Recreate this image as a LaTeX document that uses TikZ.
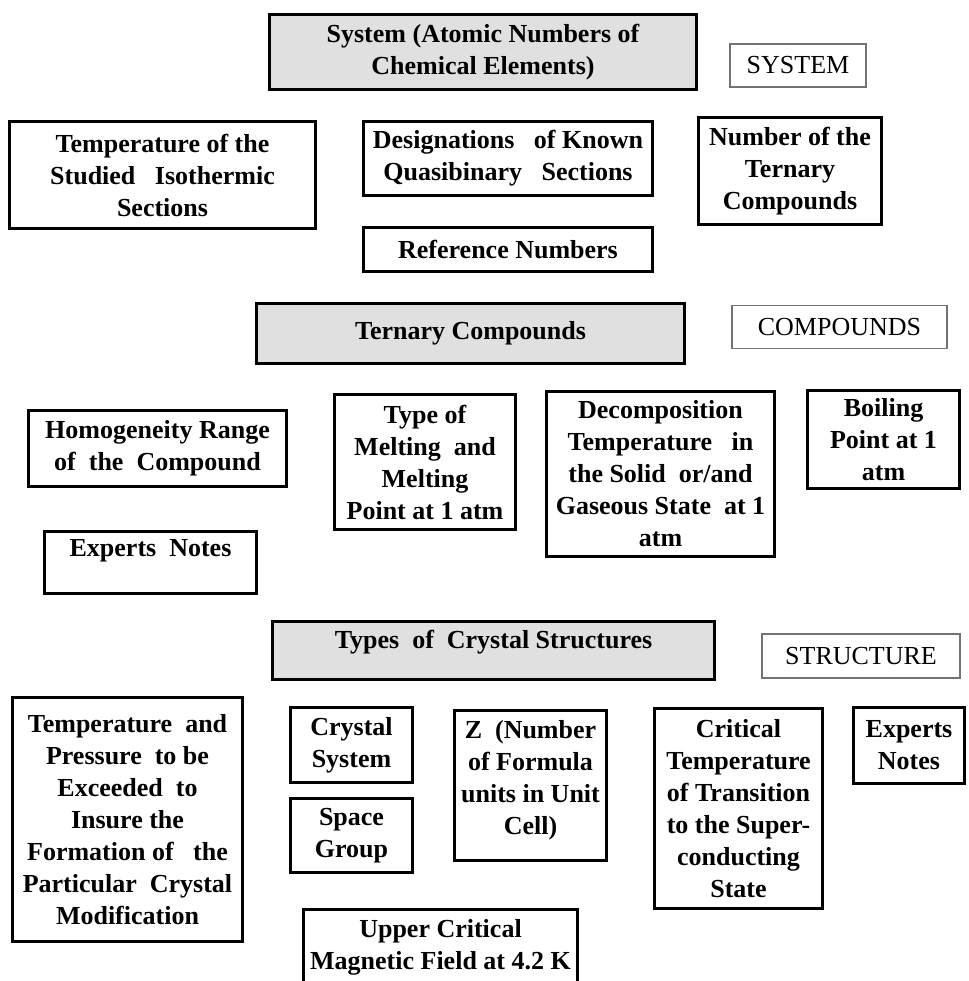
\documentclass[tikz,border=0pt]{standalone}
\usepackage{fontspec}
\setmainfont{Liberation Serif}
\begin{document}
\begin{tikzpicture}[x=1pt,y=-1pt,
  box/.style={draw=black, line width=3.5pt, inner sep=0pt, align=center,
    font=\bfseries\fontsize{26}{32}\selectfont},
  head/.style={box, fill=black!12},
  tag/.style={draw=black!55, line width=1.2pt, inner sep=0pt,
    font=\fontsize{26}{32}\selectfont},
  txt/.style={inner sep=0pt, align=center,
    font=\bfseries\fontsize{26}{32}\selectfont}]
\useasboundingbox (0,0) rectangle (968,981);
\clip (0,0) rectangle (968,981);

% --- system block ---
\node[head, minimum width=427pt, minimum height=75pt] (sys) at (483,52)
  {System (Atomic Numbers of\\Chemical Elements)};
\node[tag, minimum width=136pt, minimum height=43pt] (lsys) at (798,65.5) {SYSTEM};
\node[box, minimum width=306pt, minimum height=107pt] (temp) at (162.5,175)
  {Temperature of the\\Studied\ \ \ Isothermic\\Sections};
\node[box, minimum width=289pt, minimum height=74pt] (desig) at (508,158.5)
  {Designations\ \ \ of Known\\Quasibinary\ \ \ Sections};
\node[box, minimum width=289pt, minimum height=44pt] (ref) at (508,249.5)
  {Reference Numbers};
\node[box, minimum width=183pt, minimum height=107pt] (num) at (790,171)
  {Number of the\\Ternary\\Compounds};

% --- compounds block ---
\node[head, minimum width=428pt, minimum height=60pt] (tern) at (470.5,333.5)
  {Ternary Compounds};
\node[tag, minimum width=215pt, minimum height=43pt] (lcomp) at (839.5,327) {COMPOUNDS};
\node[box, minimum width=258pt, minimum height=76pt] (homog) at (157.5,448.5)
  {Homogeneity Range\\of\ \ the\ \ Compound};
\node[box, minimum width=181pt, minimum height=135pt] (melt) at (425,462)
  {Type of\\Melting\ \ and\\Melting\\Point at 1 atm};
\node[box, minimum width=228pt, minimum height=165pt] (decomp) at (660.5,474)
  {Decomposition\\Temperature\ \ \ in\\the Solid\ \ or/and\\Gaseous State\ \ at 1\\atm};
\node[box, minimum width=152pt, minimum height=98pt] (boil) at (883.5,439.5)
  {Boiling\\Point at 1\\atm};
\node[box, minimum width=212pt, minimum height=62pt] (exp1) at (150.5,562.5) {};
\node[txt] (exp1t) at (150.5,551) {Experts\ \ Notes};

% --- structure block ---
\node[head, minimum width=442pt, minimum height=58pt] (types) at (493.5,650.5) {};
\node[txt] (typest) at (493.5,642) {Types\ \ of\ \ Crystal Structures};
\node[tag, minimum width=198pt, minimum height=44pt] (lstruct) at (861,656) {STRUCTURE};
\node[box, minimum width=230pt, minimum height=244pt] (tp) at (127.5,819.5)
  {Temperature\ \ and\\Pressure\ \ to be\\Exceeded\ \ to\\Insure the\\Formation of\ \ \ the\\Particular\ \ Crystal\\Modification};
\node[box, minimum width=122pt, minimum height=75pt] (cs) at (351.5,745)
  {Crystal\\System};
\node[box, minimum width=122pt, minimum height=74pt] (sg) at (351.5,835.5)
  {Space\\Group};
\node[box, minimum width=152pt, minimum height=150pt] (z) at (530.5,785.5) {};
\node[txt] (zt) at (530.5,780) {Z\ \ (Number\\of Formula\\units in Unit\\Cell)};
\node[box, minimum width=168pt, minimum height=200pt] (crit) at (738.5,808.5)
  {Critical\\Temperature\\of Transition\\to the Super-\\conducting\\State};
\node[box, minimum width=111pt, minimum height=76pt] (exp2) at (909,745.5)
  {Experts\\Notes};
\node[box, minimum width=274pt, minimum height=100pt] (upper) at (440.5,959.5) {};
\node[txt] (uppert) at (440.5,947) {Upper Critical\\Magnetic Field at 4.2 K};
\end{tikzpicture}
\end{document}
